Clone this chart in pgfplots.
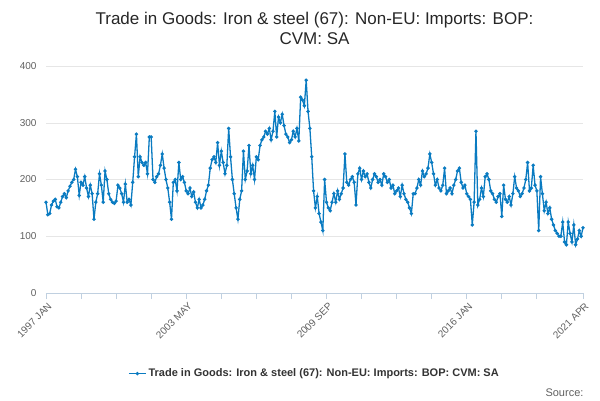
\documentclass[border=0pt]{standalone}
\usepackage{pgfplots}
\pgfplotsset{compat=1.18}
\usepackage{fontspec}
\setmainfont{Liberation Sans}
\definecolor{ln}{HTML}{0A7BC1}
\definecolor{gr}{HTML}{E6E6E6}
\definecolor{tx}{HTML}{606060}
\definecolor{ax}{HTML}{C0D0E0}
\begin{document}
\begin{tikzpicture}[x=1pt,y=1pt]
\path[use as bounding box] (-46,-107) rectangle (554,293);
\begin{axis}[at={(0,0)},anchor=south west,scale only axis,width=537pt,height=227pt,
 xmin=0,xmax=291,ymin=0,ymax=400,
 axis line style={draw=none},
 axis x line*=bottom, x axis line style={draw=ax,line width=0.8pt},
 ytick={0,100,200,300,400}, ymajorgrids, grid style={gr},
 ytick style={draw=none},
 xtick={0,19,38,57,76,95,114,133,152,171,190,209,228,247,266,291},
 xticklabels={1997 JAN,,,,2003 MAY,,,,2009 SEP,,,,2016 JAN,,,2021 APR},
 xtick style={draw=ax,line width=0.8pt},
 tick align=outside, major tick length=6pt,
 xticklabel style={rotate=45,anchor=north east,font=\fontsize{10}{12}\selectfont,text=tx,inner sep=1pt,yshift=-2pt},
 yticklabel style={font=\fontsize{10}{12}\selectfont,text=tx},
 /pgf/number format/assume math mode=true,
 title style={align=center,font=\fontsize{17}{20}\selectfont,text=black!85,at={(0.5,1)},anchor=south,yshift=12pt},
 title={Trade in Goods: Iron \& steel (67): Non-EU: Imports: BOP:\\CVM: SA},
 clip=false,
 legend style={at={(0.5,-0.355)},anchor=center,draw=none,font=\bfseries\fontsize{11}{13}\selectfont,text=black!80},
 legend cell align=left,
]
\addplot[ln,line width=1.3pt,mark=*,mark size=1pt] table[x expr=\coordindex,y index=0] {
v
160
138
140
155
162
165
152
150
160
170
175
168
180
188
195
200
218
205
172
195
190
205
185
170
190
175
130
160
175
210
190
160
215
200
175
165
160
158
162
190
185
175
160
192
160
165
155
195
240
280
205
240
230
225
230
210
275
275
200
195
205
210
225
245
220
200
185
160
130
195
200
180
230
200
205
195
180
175
185
170
178
160
150
165
150
155
165
180
190
220
235
240
230
265
225
250
230
210
225
290
240
200
175
150
130
165
180
250
200
215
260
210
225
200
240
235
260
270
275
285
280
290
270
285
320
275
310
300
315
295
280
275
265
270
285
275
290
268
345
340
330
375
320
290
240
180
150
170
140
125
110
200
160
150
145
160
175
160
180
165
175
185
245
195
190
200
205
195
155
210
220
200
215
205
210
195
185
200
210
205
195
200
190
210
205
195
200
185
190
175
180
185
170
190
175
165
160
150
140
175
175
185
200
190
215
205
210
220
245
230
210
190
200
185
180
190
220
175
180
185
175
190
200
215
220
195
185
190
175
170
165
120
160
285
155
165
185
170
205
210
200
180
175
165
160
170
175
135
190
165
160
170
155
175
205
185
180
170
175
185
200
230
180
185
225
190
180
110
205
175
145
160
140
150
130
120
110
105
100
100
125
90
85
125
105
90
120
85
95
110
100
115
};
\addlegendentry{Trade in Goods: Iron \& steel (67): Non-EU: Imports: BOP: CVM: SA}
\end{axis}
\node[anchor=base west,font=\fontsize{11}{13}\selectfont,text=tx] at (496,-103) {Source:};
\end{tikzpicture}
\end{document}
